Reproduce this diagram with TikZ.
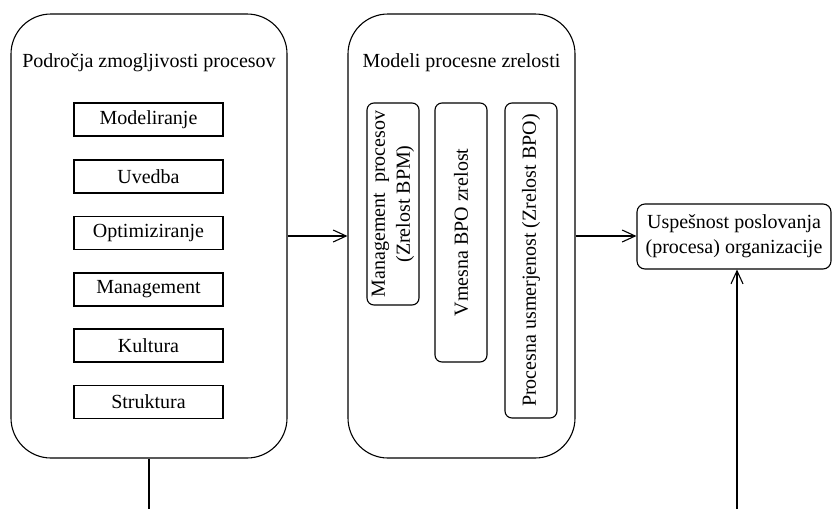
\documentclass[tikz,border=0pt]{standalone}
\usepackage{fontspec}
\setmainfont{Liberation Serif}
\usetikzlibrary{arrows.meta}
\begin{document}
\begin{tikzpicture}[x=1pt,y=-1pt,
  font=\fontsize{20}{25}\selectfont,
  every node/.style={inner sep=0pt, line width=1.1pt},
  bigbox/.style={draw, rounded corners=40pt, minimum width=#1, minimum height=444pt},
  itembox/.style={draw, minimum width=149pt, minimum height=33pt},
  modelbox/.style={draw, rounded corners=7pt, minimum width=52pt},
  arr/.style={line width=1.1pt, -{Straight Barb[length=13pt,width=12pt,line width=1.1pt]}},
  plain/.style={line width=1.1pt}]
\useasboundingbox (0,0) rectangle (832,509);

% capability areas
\node[bigbox=276pt] (areas) at (149,236) {};
\node (areasT) at (149,63) {Področja zmogljivosti procesov};
\node[itembox] (m1) at (148.5,119.5) {Modeliranje};
\node[itembox] (m2) at (148.5,176.5) {Uvedba};
\node[itembox] (m3) at (148.5,233) {Optimiziranje};
\node[itembox] (m4) at (148.5,289.5) {Management};
\node[itembox] (m5) at (148.5,345.5) {Kultura};
\node[itembox] (m6) at (148.5,402) {Struktura};

% maturity models
\node[bigbox=227pt] (models) at (461.5,236) {};
\node (modelsT) at (461.5,63) {Modeli procesne zrelosti};
\node[modelbox, minimum height=202pt] (b1) at (393,204) {};
\node[rotate=90, align=center] (b1t) at (b1.center) {Management\ \ procesov\\(Zrelost BPM)};
\node[modelbox, minimum height=259pt] (b2) at (461,232.5) {};
\node[rotate=90] (b2t) at (b2.center) {Vmesna BPO zrelost};
\node[modelbox, minimum height=315pt] (b3) at (531,260.5) {};
\node[rotate=90] (b3t) at (b3.center) {Procesna usmerjenost (Zrelost BPO)};

% business performance
\node[draw, rounded corners=8pt, minimum width=194pt, minimum height=65pt, align=center] (perf) at (734,236.5)
  {Uspešnost poslovanja\\(procesa) organizacije};

% connectors
\draw[arr] (areas.east) -- (models.west);
\draw[arr] (models.east) -- (models.east -| perf.west);
\coordinate (lb) at (149,509);
\coordinate (rb) at (737,509);
\draw[plain] (areas.south) -- (lb);
\draw[arr] (rb) -- (rb |- perf.south);
\end{tikzpicture}
\end{document}
